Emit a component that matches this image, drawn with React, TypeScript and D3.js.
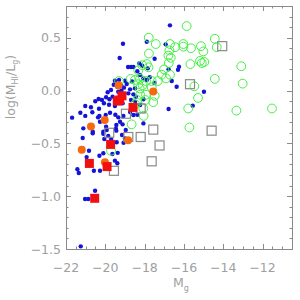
import React, { useEffect, useRef } from 'react';
import * as d3 from 'd3';

// [M_g, log(M_HI/L_g)]
const blueDots: [number, number][] = [
  [-16.71, 0.617], [-19.10, 0.443], [-17.89, 0.462], [-16.93, 0.437], [-19.27, 0.308],
  [-17.49, 0.301], [-18.84, 0.223], [-18.69, 0.223], [-18.57, 0.223], [-18.27, 0.257],
  [-18.13, 0.235], [-17.84, 0.210], [-18.37, 0.182], [-16.78, 0.201], [-16.25, 0.226],
  [-16.30, 0.197], [-16.62, 0.090], [-16.37, 0.036], [-14.98, -0.011], [-15.55, -0.143],
  [-16.78, -0.175], [-17.74, 0.125], [-17.50, 0.071], [-18.23, 0.147], [-18.06, 0.115],
  [-17.89, 0.100], [-19.51, 0.093], [-19.30, 0.100], [-19.00, 0.093], [-18.91, 0.062],
  [-19.57, 0.055], [-19.39, 0.036], [-19.18, 0.043], [-18.64, 0.087], [-19.05, 0.027],
  [-18.74, 0.011], [-18.49, 0.021], [-19.71, 0.005], [-19.34, -0.011], [-19.18, -0.001],
  [-18.83, -0.027], [-18.57, -0.036], [-18.44, -0.058], [-19.88, -0.017], [-19.96, -0.064],
  [-19.63, -0.058], [-19.79, -0.083], [-20.34, -0.080], [-20.17, -0.090], [-20.51, -0.102],
  [-20.07, -0.121], [-19.81, -0.134], [-19.51, -0.147], [-19.32, -0.112], [-19.12, -0.121],
  [-18.69, -0.090], [-18.49, -0.106], [-18.23, -0.137], [-18.06, -0.083], [-21.02, -0.147],
  [-20.73, -0.159], [-20.32, -0.172], [-21.27, -0.210], [-21.02, -0.240], [-21.69, -0.257],
  [-20.66, -0.206], [-20.30, -0.240], [-19.98, -0.232], [-19.76, -0.210], [-19.49, -0.229],
  [-19.34, -0.254], [-19.08, -0.241], [-18.74, -0.203], [-18.57, -0.232], [-18.37, -0.229],
  [-18.06, -0.311], [-20.37, -0.254], [-20.27, -0.295], [-21.12, -0.358], [-19.96, -0.342],
  [-19.93, -0.374], [-19.44, -0.326], [-19.46, -0.361], [-19.25, -0.295], [-19.12, -0.320],
  [-18.96, -0.374], [-20.64, -0.390], [-20.64, -0.405], [-20.10, -0.390], [-20.10, -0.410],
  [-19.85, -0.430], [-19.44, -0.380], [-19.15, -0.421], [-19.07, -0.494], [-19.00, -0.453],
  [-19.42, -0.490], [-21.15, -0.450], [-20.05, -0.459], [-19.70, -0.460], [-20.83, -0.570],
  [-21.17, -0.547], [-20.95, -0.630], [-20.30, -0.617], [-20.10, -0.594], [-19.37, -0.590],
  [-19.64, -0.601], [-20.02, -0.695], [-19.51, -0.664], [-19.39, -0.689], [-21.42, -0.745],
  [-21.35, -0.780], [-20.58, -0.760], [-20.27, -0.760], [-21.03, -1.027], [-20.87, -1.027],
  [-20.52, -0.948], [-21.25, -1.475],
];

const greenCircles: [number, number][] = [
  [-15.86, 0.61], [-17.79, 0.50], [-17.43, 0.44], [-16.71, 0.44], [-16.45, 0.41],
  [-16.03, 0.44], [-16.03, 0.415], [-15.64, 0.40], [-15.13, 0.42], [-15.01, 0.37],
  [-14.43, 0.49], [-14.33, 0.41], [-17.78, 0.35], [-16.74, 0.38], [-16.79, 0.33],
  [-16.67, 0.31], [-16.77, 0.26], [-15.67, 0.25], [-15.18, 0.28], [-15.09, 0.26],
  [-14.96, 0.27], [-13.08, 0.23], [-17.89, 0.25], [-17.80, 0.22], [-18.12, 0.24],
  [-18.32, 0.19], [-17.01, 0.20], [-17.13, 0.15], [-16.91, 0.115], [-16.71, 0.15],
  [-17.33, 0.09], [-17.64, 0.09], [-14.43, 0.11], [-13.01, 0.065], [-15.47, 0.04],
  [-18.71, 0.11], [-18.49, 0.10], [-18.23, 0.11], [-17.93, 0.09], [-19.30, 0.09],
  [-18.32, 0.06], [-18.10, 0.05], [-18.25, 0.02], [-17.64, 0.03], [-18.23, -0.04],
  [-17.93, -0.04], [-17.96, -0.09], [-17.49, -0.05], [-17.56, -0.11], [-18.37, -0.09],
  [-18.49, -0.13], [-18.07, -0.17], [-18.05, -0.24], [-18.66, -0.32], [-15.28, -0.07],
  [-15.78, -0.17], [-13.33, -0.19], [-11.52, -0.17], [-15.72, -0.35], [-19.71, -0.57],
];

const graySquares: [number, number][] = [
  [-14.05, 0.42], [-15.69, 0.06], [-18.20, -0.17], [-18.95, -0.22], [-19.80, -0.40],
  [-18.83, -0.44], [-18.20, -0.44], [-17.56, -0.37], [-17.24, -0.52], [-17.64, -0.67],
  [-19.56, -0.76], [-14.59, -0.38],
];

const orangeDots: [number, number][] = [
  [-19.32, 0.05], [-17.56, -0.01], [-20.03, -0.28], [-20.73, -0.34], [-18.84, -0.47],
  [-21.20, -0.56], [-20.02, -0.68],
];

const redSquares: [number, number][] = [
  [-19.15, -0.05], [-19.39, -0.10], [-19.27, -0.09], [-18.59, -0.16], [-19.73, -0.51],
  [-20.81, -0.69], [-19.91, -0.72], [-20.54, -1.02],
];

const xTicks = [-22, -20, -18, -16, -14, -12];
const yTicks = [0.5, 0.0, -0.5, -1.0, -1.5];

const App = () => {
  const svgRef = useRef<SVGSVGElement>(null);

  useEffect(() => {
    const svg = d3.select(svgRef.current);
    svg.selectAll('*').remove();

    const left = 66, right = 292, top = 6, bottom = 249;
    const x = d3.scaleLinear().domain([-22, -10.5]).range([left, right]);
    const y = d3.scaleLinear().domain([-1.5, 0.8]).range([bottom, top]);

    const axisColor = '#8a8a8a';
    const textColor = '#a0a0a0';
    const font = 'DejaVu Sans, sans-serif';

    svg.append('rect')
      .attr('x', left + 0.5).attr('y', top + 0.5)
      .attr('width', right - left).attr('height', bottom - top)
      .attr('fill', 'none').attr('stroke', axisColor).attr('stroke-width', 1);

    const ticks = svg.append('g').attr('stroke', axisColor).attr('stroke-width', 1);
    const xMinor = d3.range(-22, -10.5 + 1e-9, 0.5);
    const yMinor = d3.range(-1.5, 0.8 + 1e-9, 0.1);

    xMinor.forEach(v => {
      const major = xTicks.some(t => Math.abs(t - v) < 1e-6);
      const len = major ? 5 : 2.5;
      const px = Math.round(x(v)) + 0.5;
      ticks.append('line').attr('x1', px).attr('x2', px).attr('y1', bottom).attr('y2', bottom - len);
      ticks.append('line').attr('x1', px).attr('x2', px).attr('y1', top).attr('y2', top + len);
    });
    yMinor.forEach(v => {
      const major = yTicks.some(t => Math.abs(t - v) < 1e-6);
      const len = major ? 5 : 2.5;
      const py = Math.round(y(v)) + 0.5;
      ticks.append('line').attr('y1', py).attr('y2', py).attr('x1', left).attr('x2', left + len);
      ticks.append('line').attr('y1', py).attr('y2', py).attr('x1', right).attr('x2', right - len);
    });

    const fmt = (v: number) => (v < 0 ? '\u2212' : '') + Math.abs(v);
    svg.append('g').selectAll('text')
      .data(xTicks)
      .enter().append('text')
      .attr('x', d => x(d))
      .attr('y', 272)
      .attr('text-anchor', 'middle')
      .attr('font-family', font).attr('font-size', 12.5).attr('fill', textColor)
      .text(d => fmt(d));

    svg.append('g').selectAll('text')
      .data(yTicks)
      .enter().append('text')
      .attr('x', 61)
      .attr('y', d => y(d) + 4.5)
      .attr('text-anchor', 'end')
      .attr('font-family', font).attr('font-size', 12.5).attr('fill', textColor)
      .text(d => (d < 0 ? '\u2212' : '') + Math.abs(d).toFixed(1));

    // axis titles
    const xt = svg.append('text')
      .attr('x', 173).attr('y', 287)
      .attr('font-family', font).attr('font-size', 12.5).attr('fill', textColor);
    xt.append('tspan').text('M');
    xt.append('tspan').attr('dy', 3.5).attr('font-size', 8).text('g');

    const yt = svg.append('text')
      .attr('transform', 'translate(15,87) rotate(-90)')
      .attr('text-anchor', 'middle')
      .attr('font-family', font).attr('font-size', 12.5).attr('fill', textColor);
    yt.append('tspan').text('log(M');
    yt.append('tspan').attr('dy', 3).attr('font-size', 8).text('HI');
    yt.append('tspan').attr('dy', -3).text('/L');
    yt.append('tspan').attr('dy', 3).attr('font-size', 8).text('g');
    yt.append('tspan').attr('dy', -3).text(')');

    const plot = svg.append('g');

    plot.selectAll('.blue')
      .data(blueDots)
      .enter().append('circle')
      .attr('cx', d => x(d[0])).attr('cy', d => y(d[1]))
      .attr('r', 2.2).attr('fill', '#1414d8');

    plot.selectAll('.green')
      .data(greenCircles)
      .enter().append('circle')
      .attr('cx', d => x(d[0])).attr('cy', d => y(d[1]))
      .attr('r', 4.4).attr('fill', 'none')
      .attr('stroke', '#44f044').attr('stroke-width', 1);

    plot.selectAll('.gray')
      .data(graySquares)
      .enter().append('rect')
      .attr('x', d => x(d[0]) - 4.5).attr('y', d => y(d[1]) - 4.5)
      .attr('width', 9).attr('height', 9)
      .attr('fill', 'none').attr('stroke', '#8a8a8a').attr('stroke-width', 1.2);

    plot.selectAll('.orange')
      .data(orangeDots)
      .enter().append('circle')
      .attr('cx', d => x(d[0])).attr('cy', d => y(d[1]))
      .attr('r', 4).attr('fill', '#f8690f');

    plot.selectAll('.red')
      .data(redSquares)
      .enter().append('rect')
      .attr('x', d => x(d[0]) - 4.5).attr('y', d => y(d[1]) - 4.5)
      .attr('width', 9).attr('height', 9)
      .attr('fill', '#f01010');
  }, []);

  return (
    <svg ref={svgRef} width="300" height="300"
      style={{ position: 'absolute', left: 0, top: 0, background: '#fff' }}></svg>
  );
};

export default App;
